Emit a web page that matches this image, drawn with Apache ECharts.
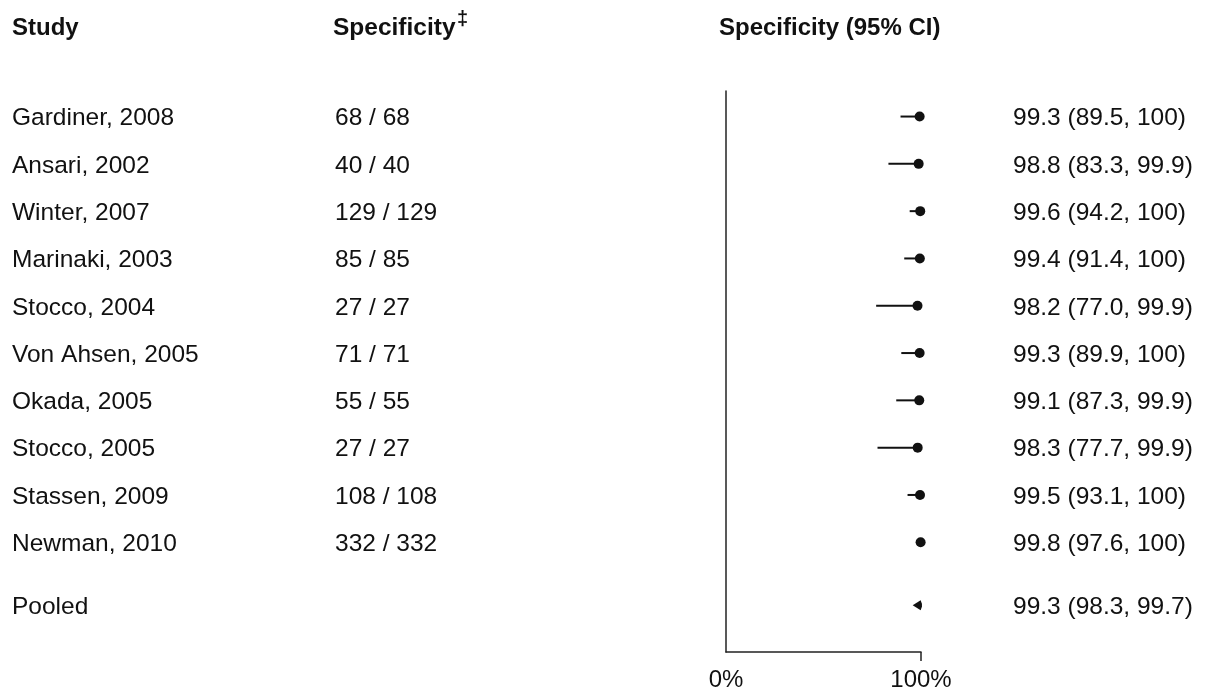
<!DOCTYPE html>
<html>
<head>
<meta charset="utf-8">
<script src="https://cdn.jsdelivr.net/npm/echarts@6/dist/echarts.min.js"></script>
<style>
html,body{margin:0;padding:0;background:#fff;}
#chart{width:1209px;height:692px;}
</style>
</head>
<body>
<div id="chart"></div>
<script>
// ---- data ----
const studies = ['Gardiner, 2008','Ansari, 2002','Winter, 2007','Marinaki, 2003','Stocco, 2004','Von Ahsen, 2005','Okada, 2005','Stocco, 2005','Stassen, 2009','Newman, 2010'];
const specNum = [68, 40, 129, 85, 27, 71, 55, 27, 108, 332];
const specDen = [68, 40, 129, 85, 27, 71, 55, 27, 108, 332];
const specEst = [99.3, 98.8, 99.6, 99.4, 98.2, 99.3, 99.1, 98.3, 99.5, 99.8];
const specLo  = [89.5, 83.3, 94.2, 91.4, 77.0, 89.9, 87.3, 77.7, 93.1, 97.6];
const specHi  = [100, 99.9, 100, 100, 99.9, 100, 99.9, 99.9, 100, 100];
const pooledLabel = 'Pooled';
const pooledEst = 99.3, pooledLo = 98.3, pooledHi = 99.7;
const xTickValues = [100];
const xLabelValues = [0, 100];

// ---- layout (not data) ----
const POOLED_GAP = 1.33;
const TEXT_DY = 2;
const FONT = '"Liberation Sans", Arial, Helvetica, sans-serif';
const INK = '#111';

function fmt(v){ return v === 100 ? '100' : v.toFixed(1); }

const rows = studies.map((s, i) => [i, specEst[i], specLo[i], specHi[i]]);
rows.push([studies.length - 1 + POOLED_GAP, pooledEst, pooledLo, pooledHi]);

const chart = echarts.init(document.getElementById('chart'), null, {renderer: 'canvas'});

function txt(x, y, s){
  return {
    type: 'text', x: x, y: y + TEXT_DY,
    style: {text: s, fill: INK, fontSize: 24.5, fontFamily: FONT, align: 'left', verticalAlign: 'middle'}
  };
}

chart.setOption({
  animation: false,
  backgroundColor: '#fff',
  grid: {left: 726, width: 195, top: 91, bottom: 40, containLabel: false},
  xAxis: {
    type: 'value', min: 0, max: 100,
    axisLine: {show: true, onZero: false, lineStyle: {color: '#222', width: 1.5}},
    axisTick: {show: true, customValues: xTickValues, length: 9, lineStyle: {color: '#222', width: 1.5}},
    axisLabel: {show: true, customValues: xLabelValues, formatter: v => v + '%', margin: 16,
      color: INK, fontSize: 24, fontFamily: FONT},
    splitLine: {show: false}
  },
  yAxis: {
    type: 'value', inverse: true, min: -0.54, max: 11.32,
    axisLine: {show: true, onZero: false, lineStyle: {color: '#222', width: 1.5}},
    axisTick: {show: false}, axisLabel: {show: false}, splitLine: {show: false}
  },
  graphic: [
    {type: 'text', left: 12, top: 16, style: {text: 'Study', fill: INK, font: 'bold 24px ' + FONT}},
    {type: 'text', left: 333, top: 16, style: {text: 'Specificity', fill: INK, font: 'bold 24.5px ' + FONT}},
    {type: 'text', left: 457, top: 9, style: {text: '\u2021', fill: INK, font: 'bold 20px ' + FONT}},
    {type: 'text', left: 719, top: 16, style: {text: 'Specificity (95% CI)', fill: INK, font: 'bold 24px ' + FONT}}
  ],
  series: [{
    type: 'custom',
    clip: false,
    data: rows,
    encode: {x: [1, 2, 3], y: 0},
    renderItem: function(params, api){
      const i = params.dataIndex;
      const idx = api.value(0), est = api.value(1), lo = api.value(2), hi = api.value(3);
      const pE = api.coord([est, idx]);
      const pL = api.coord([lo, idx]);
      const pH = api.coord([hi, idx]);
      const y = pE[1];
      const pooled = i === studies.length;
      const children = [];
      const name = pooled ? pooledLabel : studies[i];
      children.push(txt(12, y, name));
      if (!pooled) children.push(txt(335, y, specNum[i] + ' / ' + specDen[i]));
      children.push(txt(1013, y, fmt(est) + ' (' + fmt(lo) + ', ' + fmt(hi) + ')'));
      if (!pooled) {
        children.push({type: 'line', shape: {x1: pL[0], y1: y, x2: pH[0], y2: y},
          style: {stroke: INK, lineWidth: 2}});
        children.push({type: 'circle', shape: {cx: pE[0], cy: y, r: 5}, style: {fill: INK}});
      } else {
        children.push({type: 'polygon', shape: {points: [
          [pL[0] - 5, y], [pE[0] + 1, y - 5], [pH[0] + 1.5, y - 1.5], [pH[0] + 1.5, y + 1.5], [pE[0] + 1, y + 5]
        ]}, style: {fill: INK}});
      }
      return {type: 'group', children: children};
    }
  }]
});
</script>
</body>
</html>
